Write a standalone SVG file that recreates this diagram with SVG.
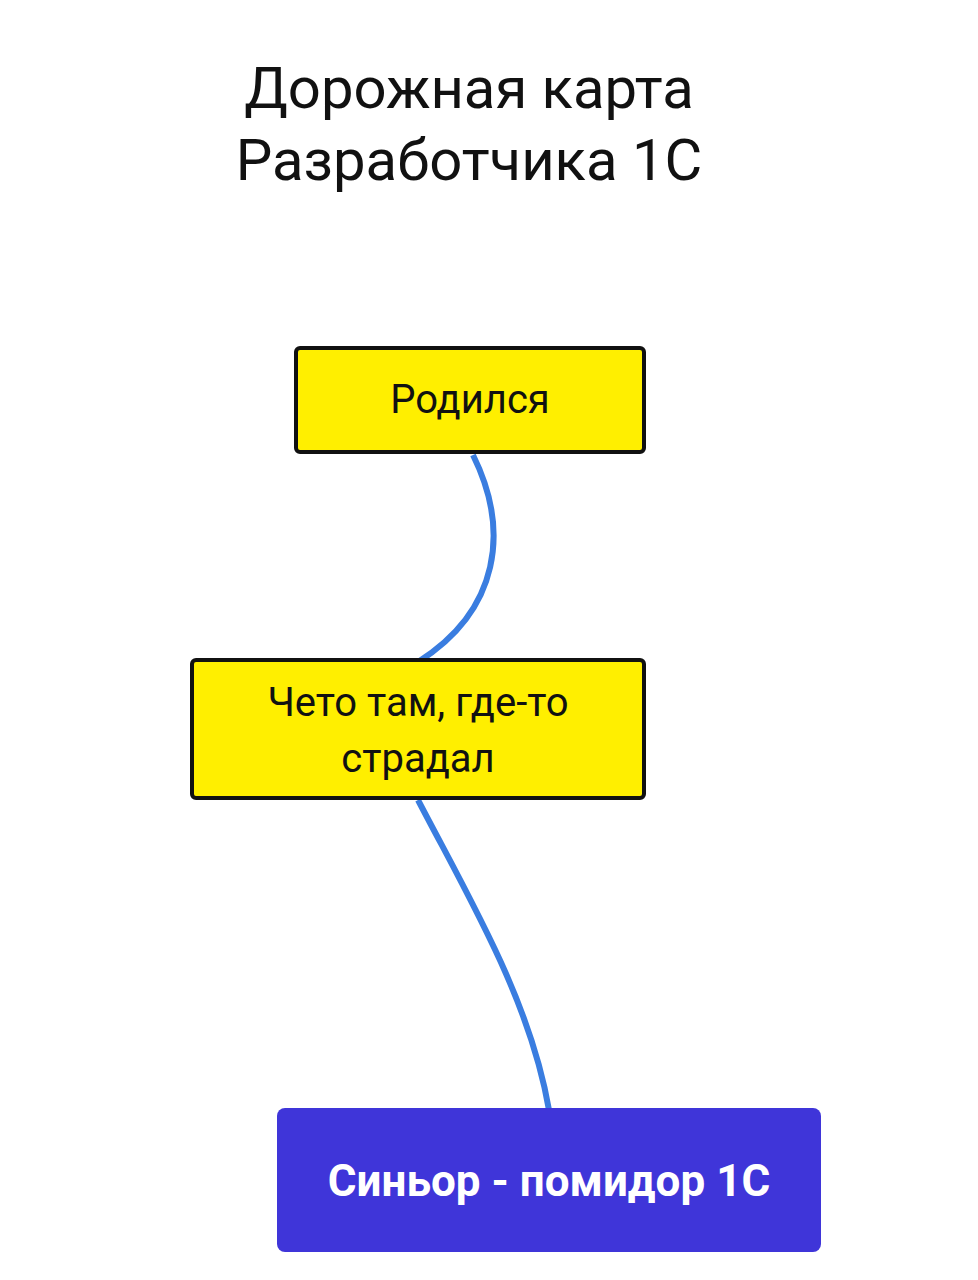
<svg xmlns="http://www.w3.org/2000/svg" width="978" height="1280" viewBox="0 0 978 1280">
<style>
.t{font-family:Roboto,"Liberation Sans",sans-serif;text-anchor:middle}
.y{fill:#ffef00;stroke:#111;stroke-width:4}
.c{fill:none;stroke:#3a7de0;stroke-width:6}
</style>
<rect width="978" height="1280" fill="#fff"/>
<text class="t" x="469" y="108" font-size="58" fill="#111">Дорожная карта</text>
<text class="t" x="469" y="180" font-size="58" fill="#111">Разработчика 1С</text>
<g id="connectors">
<path class="c" d="M473 455 C510 530 500 610 418 662"/>
<path class="c" d="M418 800 C470 900 530 1000 549 1110"/>
</g>
<g id="n1"><rect class="y" x="296" y="348" width="348" height="104" rx="4"/>
<text class="t" x="470" y="413" font-size="40" fill="#111">Родился</text></g>
<g id="n2"><rect class="y" x="192" y="660" width="452" height="138" rx="4"/>
<text class="t" x="418" y="716" font-size="40" fill="#111">Чето там, где-то</text>
<text class="t" x="418" y="772" font-size="40" fill="#111">страдал</text></g>
<g id="n3"><rect x="277" y="1108" width="544" height="144" rx="8" fill="#3f35d9"/>
<text class="t" x="549" y="1196" font-size="44" font-weight="bold" fill="#fff">Синьор - помидор 1С</text></g>
</svg>
